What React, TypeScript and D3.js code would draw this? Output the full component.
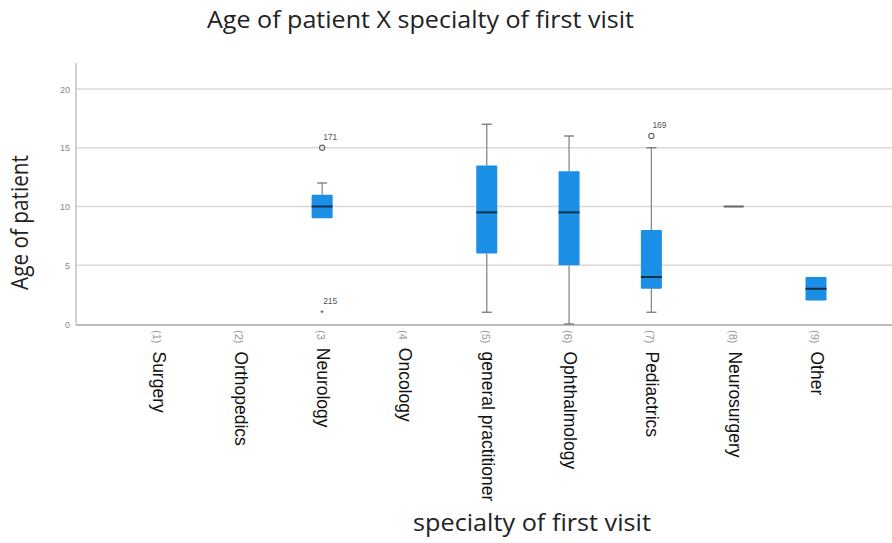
import React from "react";
import * as d3 from "d3";

const categoryCodes = ["(1)", "(2)", "(3", "(4", "(5)", "(6)", "(7)", "(8)", "(9)"];
const categoryNames = ["Surgery", "Orthopedics", "Neurology", "Oncology", "general practitioner", "Ophthalmology", "Pediactrics", "Neurosurgery", "Other"];
// box stats per category: [whiskerLow, q1, median, q3, whiskerHigh] or null
const boxStats: (number[] | null)[] = [
  null,
  null,
  [9, 9, 10, 11, 12],
  null,
  [1, 6, 9.5, 13.5, 17],
  [0, 5, 9.5, 13, 16],
  [1, 3, 4, 8, 15],
  [10, 10, 10, 10, 10],
  [2, 2, 3, 4, 4],
];
// outliers
const outlierCat = [2, 2, 6];
const outlierVal = [15, 1, 16];
const outlierLabel = ["171", "215", "169"];
const outlierKind = ["circle", "star", "circle"];
const yTicks = [0, 5, 10, 15, 20];

const W = 892, H = 543;

export default function App() {
  const y = d3.scaleLinear().domain([0, 20]).range([324, 89]);
  const x = d3.scalePoint<number>().domain(d3.range(9)).range([157.5, 816]);
  const bw = 21;
  const boxColor = "#1b8fe6";
  return (
    <svg width={W} height={H} style={{ position: "absolute", left: 0, top: 0, background: "#fff" }}>
      <text x={207} y={28} fontFamily="Open Sans" fontSize={23} fill="#222" textLength={427} lengthAdjust="spacingAndGlyphs">
        Age of patient X specialty of first visit
      </text>
      {yTicks.filter((t) => t > 0).map((t) => (
        <line key={t} x1={76} x2={892} y1={y(t)} y2={y(t)} stroke="#d9d9d9" strokeWidth={1.5} />
      ))}
      <line x1={76} x2={76} y1={63} y2={325} stroke="#c4c4c4" strokeWidth={1.5} />
      <line x1={76} x2={892} y1={325} y2={325} stroke="#bdbdbd" strokeWidth={2} />
      {yTicks.map((t) => (
        <text key={t} x={70} y={y(t) + 3.5} textAnchor="end" fontFamily="Liberation Sans" fontSize={9} fill="#888">
          {t}
        </text>
      ))}
      <text
        transform={`translate(28,${290}) rotate(-90)`}
        fontFamily="Open Sans"
        fontSize={23}
        fill="#222"
        textLength={135}
        lengthAdjust="spacingAndGlyphs"
      >
        Age of patient
      </text>
      {boxStats.map((s, i) => {
        if (!s) return null;
        const cx = x(i)!;
        const [lo, q1, med, q3, hi] = s;
        if (q1 === q3) {
          return <line key={i} x1={cx - 10} x2={cx + 10} y1={y(med)} y2={y(med)} stroke="#666" strokeWidth={2} />;
        }
        return (
          <g key={i}>
            {hi > q3 && (
              <>
                <line x1={cx} x2={cx} y1={y(hi)} y2={y(q3)} stroke="#888" strokeWidth={1.3} />
                <line x1={cx - 5} x2={cx + 5} y1={y(hi)} y2={y(hi)} stroke="#777" strokeWidth={1.3} />
              </>
            )}
            {lo < q1 && (
              <>
                <line x1={cx} x2={cx} y1={y(q1)} y2={y(lo)} stroke="#888" strokeWidth={1.3} />
                <line x1={cx - 5} x2={cx + 5} y1={y(lo)} y2={y(lo)} stroke="#777" strokeWidth={1.3} />
              </>
            )}
            <rect x={cx - bw / 2} y={y(q3)} width={bw} height={y(q1) - y(q3)} fill={boxColor} rx={1} />
            <line x1={cx - bw / 2} x2={cx + bw / 2} y1={y(med)} y2={y(med)} stroke="#10304a" strokeWidth={2} />
          </g>
        );
      })}
      {outlierCat.map((c, k) => {
        const cx = x(c)!;
        const cy = y(outlierVal[k]);
        return (
          <g key={k}>
            {outlierKind[k] === "circle" ? (
              <circle cx={cx} cy={cy} r={2.6} fill="none" stroke="#666" strokeWidth={1.1} />
            ) : (
              <text x={cx} y={cy + 3.5} textAnchor="middle" fontFamily="Liberation Sans" fontSize={9} fill="#444">
                *
              </text>
            )}
            <text x={cx + 1} y={cy - 8} fontFamily="Liberation Sans" fontSize={8.5} fill="#555">
              {outlierLabel[k]}
            </text>
          </g>
        );
      })}
      {categoryNames.map((n, i) => (
        <text
          key={i}
          transform={`translate(${x(i)! - 5},${330}) rotate(90)`}
          fontFamily="Liberation Sans"
          fontSize={17.5}
          fill="#111"
        >
          <tspan fill="#999" fontSize={11}>{categoryCodes[i]}</tspan>
          <tspan dx={8}>{n}</tspan>
        </text>
      ))}
      <text x={413} y={531} fontFamily="Open Sans" fontSize={23} fill="#222" textLength={238} lengthAdjust="spacingAndGlyphs">
        specialty of first visit
      </text>
    </svg>
  );
}
